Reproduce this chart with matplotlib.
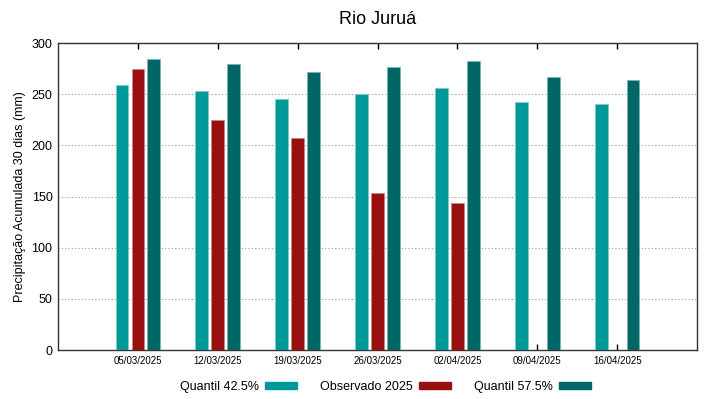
import matplotlib.pyplot as plt
import numpy as np
from matplotlib.patches import Patch

plt.rcParams['font.family'] = ['Liberation Sans', 'DejaVu Sans']

# datas e valores (mm)
datas = ['05/03/2025', '12/03/2025', '19/03/2025', '26/03/2025',
         '02/04/2025', '09/04/2025', '16/04/2025']
q425 = [258.6, 253.2, 245.4, 250.2, 256.1, 242.4, 240.1]
obs2025 = [274.7, 225.0, 207.2, 153.5, 143.4, np.nan, np.nan]
q575 = [284.5, 279.3, 272.0, 276.6, 282.8, 266.5, 263.6]

cor_q425 = '#009999'
cor_obs = '#990f0f'
cor_q575 = '#006666'

fig = plt.figure(figsize=(7.19, 3.99), dpi=100)
ax = fig.add_axes([0.0807, 0.1228, 0.8887, 0.7694])

x = np.arange(len(datas))
w = 0.16
ax.bar(x - 0.2, q425, w, color=cor_q425, edgecolor='#7fcccc', linewidth=0.5, zorder=3)
ax.bar(x, obs2025, w, color=cor_obs, edgecolor='#cc8787', linewidth=0.5, zorder=3)
ax.bar(x + 0.2, q575, w, color=cor_q575, edgecolor='#7fb2b2', linewidth=0.5, zorder=3)

ax.set_xlim(-1, 7)
ax.set_ylim(0, 300)
ax.set_yticks(range(0, 301, 50))
ax.set_xticks(x)
ax.set_xticklabels(datas, fontsize=7)
ax.tick_params(axis='x', direction='in', top=True, length=4, width=1, pad=4)
ax.tick_params(axis='y', direction='in', length=0, labelsize=9, pad=4)
ax.yaxis.grid(True, linestyle=(0, (1, 2)), color='#999999', linewidth=0.8, zorder=0)
for s in ax.spines.values():
    s.set_color('#333333')
    s.set_linewidth(1)

ax.set_ylabel('Precipitação Acumulada 30 dias (mm)', fontsize=9)
ax.set_title('Rio Juruá', fontsize=13, pad=14)

handles = [Patch(color=cor_q425), Patch(color=cor_obs), Patch(color=cor_q575)]
labels = ['Quantil 42.5%', 'Observado 2025', 'Quantil 57.5%']
fig.legend(handles, labels, loc='center', bbox_to_anchor=(0.536, 0.03), ncol=3,
           frameon=False, markerfirst=False, fontsize=9, handlelength=2.5,
           handleheight=0.5, columnspacing=1.9, handletextpad=0.5)

fig.savefig('out.png', dpi=100)
